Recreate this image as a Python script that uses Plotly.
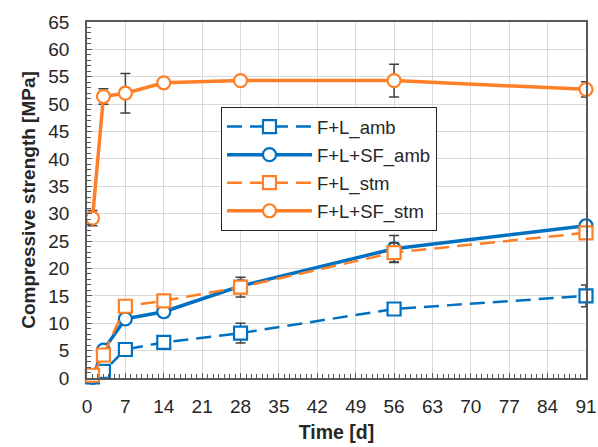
import plotly.graph_objects as go

# Curing age [days]
time_d = [1, 3, 7, 14, 28, 56, 91]

# Mean compressive strength [MPa] and standard deviation per mix
fl_amb = [0.2, 1.2, 5.2, 6.5, 8.2, 12.6, 15.0]
fl_amb_sd = [0.2, 0.3, 0.5, 0.5, 1.8, 0.6, 2.0]

flsf_amb = [0.1, 5.1, 10.8, 12.1, 16.8, 23.6, 27.8]
flsf_amb_sd = [0.1, 0.4, 0.5, 1.0, 0.8, 2.4, 1.0]

fl_stm = [0.5, 4.2, 13.1, 14.1, 16.6, 22.9, 26.5]
fl_stm_sd = [0.2, 0.4, 0.5, 0.5, 1.8, 1.8, 0.8]

flsf_stm = [29.2, 51.4, 52.0, 53.9, 54.3, 54.3, 52.7]
flsf_stm_sd = [1.4, 1.4, 3.6, 0.5, 0.4, 3.0, 1.4]

series_names = ["F+L_amb", "F+L+SF_amb", "F+L_stm", "F+L+SF_stm"]

BLUE = "#0070C0"
ORANGE = "#FF7F27"
ERR = "#404040"
TXT = "#262626"
FONT = "Arial, Liberation Sans, sans-serif"

styles = [
    (fl_amb, fl_amb_sd, BLUE, "15px,8px", 2.5, "square"),
    (flsf_amb, flsf_amb_sd, BLUE, "solid", 3.5, "circle"),
    (fl_stm, fl_stm_sd, ORANGE, "15px,8px", 2.5, "square"),
    (flsf_stm, flsf_stm_sd, ORANGE, "solid", 3.5, "circle"),
]

fig = go.Figure()
for i, (name, (vals, sd, color, dash, lw, sym)) in enumerate(zip(series_names, styles)):
    fig.add_trace(go.Scatter(
        x=time_d, y=vals, name=name, mode="lines+markers",
        legendgroup=f"g{i}",
        line=dict(color=color, width=lw, dash=dash),
        marker=dict(symbol=sym, size=13, color="white",
                    line=dict(color=color, width=2.2)),
        error_y=dict(type="data", array=sd, visible=True, color=ERR,
                     thickness=1.5, width=5),
        cliponaxis=False,
    ))

axis_common = dict(
    showline=True, mirror=True, linecolor="#595959", linewidth=1.5,
    showgrid=True, gridcolor="#D9D9D9", gridwidth=1,
    zeroline=False, ticks="inside", ticklen=5, tickcolor="#595959",
    tickfont=dict(family=FONT, size=19, color=TXT),
    automargin=False,
)

fig.update_xaxes(
    range=[0, 91], dtick=7, tick0=0,
    minor=dict(dtick=1, ticks="inside", ticklen=4, tickcolor="#595959", showgrid=False),
    ticklabelstandoff=10,
    title=dict(text="<b>Time [d]</b>", font=dict(family=FONT, size=19.5, color=TXT), standoff=10),
    **axis_common,
)
fig.update_yaxes(
    range=[0, 65], dtick=5, tick0=0,
    minor=dict(dtick=1, ticks="inside", ticklen=4, tickcolor="#595959", showgrid=False),
    ticklabelstandoff=12,
    title=dict(text="<b>Compressive strength [MPa]</b>", font=dict(family=FONT, size=19, color=TXT), standoff=8),
    **axis_common,
)

fig.update_layout(
    width=598, height=447,
    margin=dict(l=87, r=12, t=22, b=69),
    paper_bgcolor="white", plot_bgcolor="white",
    showlegend=True,
    legend=dict(
        x=0.2685, y=0.761, xanchor="left", yanchor="top",
        bgcolor="white", bordercolor=TXT, borderwidth=1,
        font=dict(family=FONT, size=18.5, color=TXT),
        itemwidth=85, tracegroupgap=1,
    ),
)

fig.write_html("out.html")
